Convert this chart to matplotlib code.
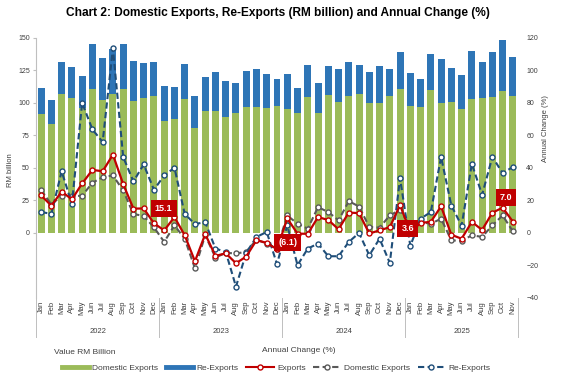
import matplotlib.pyplot as plt
import numpy as np
from matplotlib.lines import Line2D
from matplotlib.transforms import blended_transform_factory

plt.rcParams['font.family'] = ['Liberation Sans', 'DejaVu Sans']

month_names = ['Jan', 'Feb', 'Mar', 'Apr', 'May', 'Jun', 'Jul', 'Aug', 'Sep', 'Oct', 'Nov', 'Dec']
years = ['2022', '2023', '2024', '2025']
months_per_year = [12, 12, 12, 11]

# RM billion
domestic = [91.5, 83.8, 107.0, 103.9, 96.1, 110.8, 102.3, 107.0, 110.8, 101.5, 103.9, 105.4,
            86.3, 87.6, 103.1, 80.7, 93.8, 93.8, 89.2, 92.3, 96.9, 96.9, 96.1, 97.7,
            95.4, 92.3, 104.6, 92.3, 106.2, 100.8, 105.4, 107.0, 100.0, 100.0, 105.4, 110.8,
            97.7, 96.9, 110.0, 100.0, 100.8, 95.4, 103.1, 103.9, 104.6, 109.3, 105.4]
reexports = [20.4, 18.5, 24.7, 23.9, 24.8, 34.3, 32.5, 34.5, 34.3, 31.0, 26.5, 26.3,
             26.8, 24.8, 27.1, 24.7, 26.3, 30.2, 27.8, 23.2, 27.8, 29.4, 26.3, 20.9,
             27.0, 19.3, 24.8, 23.2, 22.4, 25.5, 26.3, 22.4, 24.0, 28.6, 20.9, 28.6,
             25.5, 21.7, 27.9, 34.0, 26.3, 26.2, 37.1, 27.8, 34.8, 39.4, 30.2]

# annual change (%)
exports_chg = [23.1, 16.8, 25.5, 20.7, 30.5, 38.8, 38.0, 48.2, 30.1, 15.0, 15.1, 6.0,
               1.6, 9.8, -1.4, -17.4, -0.7, -14.1, -12.5, -18.6, -14.5, -4.4, -6.1, -10.0,
               9.0, -0.4, -0.5, 9.8, 8.0, 2.3, 12.6, 12.2, -0.3, 1.6, 3.6, 17.2,
               0.3, 6.2, 6.9, 16.4, -1.1, -3.5, 6.8, 1.9, 12.5, 15.6, 7.0]
domestic_chg = [26.5, 17.5, 23.0, 22.5, 23.0, 30.9, 34.4, 35.4, 26.2, 11.7, 10.5, 3.5,
                -5.5, 4.7, -3.5, -21.8, -1.4, -15.1, -12.2, -12.6, -11.6, -4.1, -6.5, -9.6,
                10.8, 5.7, 2.7, 15.9, 12.9, 7.8, 19.6, 16.3, 3.7, 3.3, 10.8, 14.3,
                4.0, 6.7, 5.7, 8.8, -4.5, -4.9, -1.4, -2.4, 4.7, 10.8, 1.0]
reexports_chg = [12.9, 11.8, 38.0, 17.9, 80.1, 63.7, 56.0, 113.7, 46.8, 31.7, 42.2, 26.6,
                 35.4, 40.2, 11.7, 5.5, 6.7, -9.6, -11.6, -33.0, -12.2, -2.4, 0.6, -19.2,
                 4.7, -19.8, -9.6, -6.5, -14.3, -14.3, -5.5, 0.0, -13.7, -3.5, -18.4, 33.8,
                 -8.0, 8.8, 12.9, 46.8, 16.9, 4.5, 42.6, 23.5, 46.8, 36.9, 40.6]

# highlighted November points
label_idx = [10, 22, 34, 46]
label_offsets = [(20, 0), (21, 0), (18, -1), (-7, 24)]

green = '#9BBB59'
blue = '#2E75B6'
red = '#C00000'
grey = '#595959'
navy = '#1F4E79'

labels = []
for n in months_per_year:
    labels += month_names[:n]
x = np.arange(len(labels))

fig = plt.figure(figsize=(5.61, 3.76), dpi=100)
ax = fig.add_axes([36 / 561, 1 - 298 / 376, 482 / 561, 260 / 376])

ax.bar(x, domestic, width=0.68, color=green)
ax.bar(x, reexports, bottom=domestic, width=0.68, color=blue)
ax.set_xlim(-0.5, len(x) - 0.5)
ax.set_ylim(-50, 150)
ax.set_yticks(range(0, 151, 25))
for s in ['top', 'right', 'bottom']:
    ax.spines[s].set_visible(False)
ax.spines['left'].set_color('#BFBFBF')
ax.tick_params(axis='y', length=2.5, color='#BFBFBF', labelsize=5, labelcolor='#404040', pad=2)
ax.set_xticks(x, labels, rotation=90, fontsize=5.5, color='#404040')
ax.tick_params(axis='x', length=0, pad=2)
ax.set_ylabel('RM billion', fontsize=5.5, color='#404040')
ax.yaxis.set_label_coords(-0.045, 0.49)

# year groups under the month labels
trans = blended_transform_factory(ax.transData, ax.transAxes)
start = 0
bounds = [-0.5]
for yr, n in zip(years, months_per_year):
    ax.text(start + (n - 1) / 2, -0.127, yr, transform=trans, ha='center', va='center',
            fontsize=5.5, color='#404040')
    start += n
    bounds.append(start - 0.5)
for b in bounds:
    ax.plot([b, b], [0, -0.15], transform=trans, color='#BFBFBF', lw=0.7, clip_on=False)

ax2 = ax.twinx()
ax2.set_ylim(-40, 120)
ax2.set_yticks(range(-40, 121, 20))
for s in ax2.spines.values():
    s.set_visible(False)
ax2.tick_params(axis='y', length=0, labelsize=5, labelcolor='#404040', pad=6)
ax2.set_ylabel('Annual Change (%)', fontsize=5.5, color='#404040')
ax2.yaxis.set_label_coords(1.05, 0.65)

mk = dict(marker='o', markersize=3.6, markerfacecolor='white', markeredgewidth=1.0)
ax2.plot(x, domestic_chg, color=grey, lw=1.5, ls=(0, (3, 1.6)), markeredgecolor=grey, **mk)
ax2.plot(x, reexports_chg, color=navy, lw=1.5, ls=(0, (3, 1.6)), markeredgecolor=navy, **mk)
ax2.plot(x, exports_chg, color=red, lw=1.6, markeredgecolor=red, **mk)

for i, (dx, dy) in zip(label_idx, label_offsets):
    v = exports_chg[i]
    txt = f'{v:.1f}' if v >= 0 else f'({abs(v):.1f})'
    ax2.annotate(txt, xy=(i, v), xytext=(dx, dy), textcoords='offset pixels',
                 ha='center', va='center', fontsize=6.5, color='white', fontweight='bold',
                 bbox=dict(boxstyle='square,pad=0.45', fc=red, ec='none'))

fig.text(0.496, 1 - 13 / 376, 'Chart 2: Domestic Exports, Re-Exports (RM billion) and Annual Change (%)',
         ha='center', va='center', fontsize=8.6, fontweight='bold')

handles = [Line2D([0], [0], color=green, lw=3.5),
           Line2D([0], [0], color=blue, lw=3.5),
           Line2D([0], [0], color=red, lw=1.5, markeredgecolor=red, **mk),
           Line2D([0], [0], color=grey, lw=1.5, ls=(0, (3, 1.6)), markeredgecolor=grey, **mk),
           Line2D([0], [0], color=navy, lw=1.5, ls=(0, (3, 1.6)), markeredgecolor=navy, **mk)]
names = ['Domestic Exports', 'Re-Exports', 'Exports', 'Domestic Exports', 'Re-Exports']
fig.legend(handles, names, loc='center', bbox_to_anchor=(276 / 561, 1 - 368 / 376), ncol=5,
           frameon=False, fontsize=6, handlelength=3.3, handletextpad=0.4, columnspacing=0.9,
           labelcolor='#404040')
fig.text(54 / 561, 1 - 352 / 376, 'Value RM Billion', fontsize=6, va='center', color='#404040')
fig.text(262 / 561, 1 - 350 / 376, 'Annual Change (%)', fontsize=6, va='center', color='#404040')

fig.savefig('out.png', dpi=100)
